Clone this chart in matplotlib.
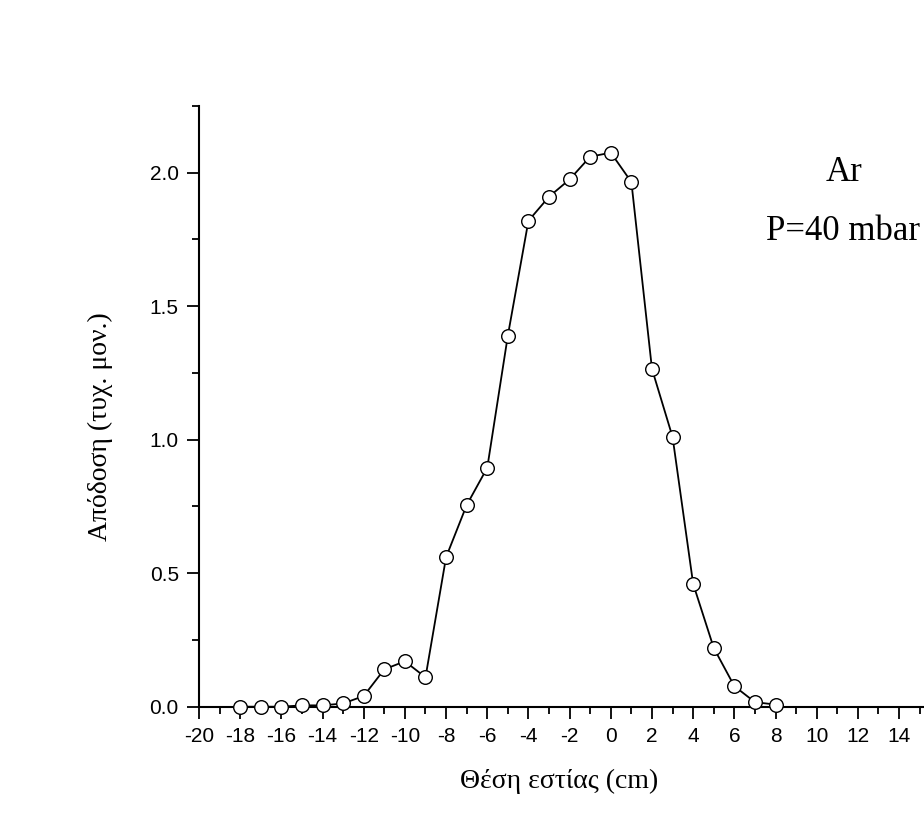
import numpy as np
import matplotlib
matplotlib.use("Agg")
import matplotlib.pyplot as plt
from matplotlib.ticker import MultipleLocator, FormatStrFormatter

plt.rcParams["axes.unicode_minus"] = False

# focal position (cm) vs yield (arb. units), Ar at 40 mbar
position = [-18, -17, -16, -15, -14, -13, -12, -11, -10, -9, -8, -7, -6, -5, -4,
            -3, -2, -1, 0, 1, 2, 3, 4, 5, 6, 7, 8]
yield_au = [0.0, 0.0, 0.0, 0.005, 0.005, 0.012, 0.04, 0.14, 0.17, 0.11, 0.56, 0.755,
            0.895, 1.39, 1.82, 1.91, 1.975, 2.06, 2.075, 1.965, 1.265, 1.01, 0.46,
            0.22, 0.077, 0.017, 0.008]

xlabel = "Θέση εστίας (cm)"
ylabel = "Απόδοση (τυχ. μον.)"

W, H = 924, 839
fig = plt.figure(figsize=(W / 100, H / 100), dpi=100)

# axes runs off the right edge like the original
x0, y0 = 199, 706.7
px_x = 20.59
px_y = 267.0
xmin, xmax = -20, 15.5
ax = fig.add_axes([x0 / W, (H - y0) / H, (xmax - xmin) * px_x / W, 2.25 * px_y / H])

ax.plot(position, yield_au, color="black", lw=1.3, marker="o", ms=9.8,
        mfc="white", mec="black", mew=1.0, clip_on=False, zorder=3)

ax.set_xlim(xmin, xmax)
ax.set_ylim(0, 2.25)
ax.spines["top"].set_visible(False)
ax.spines["right"].set_visible(False)
for s in ("left", "bottom"):
    ax.spines[s].set_linewidth(1.5)

ax.xaxis.set_major_locator(MultipleLocator(2))
ax.xaxis.set_minor_locator(MultipleLocator(1))
ax.yaxis.set_major_locator(MultipleLocator(0.5))
ax.yaxis.set_minor_locator(MultipleLocator(0.25))
ax.yaxis.set_major_formatter(FormatStrFormatter("%.1f"))
ax.tick_params(which="major", length=8.5, width=1.3, direction="out",
               labelsize=15, pad=6)
ax.tick_params(which="minor", length=5, width=1.3, direction="out")
for lab in ax.get_xticklabels() + ax.get_yticklabels():
    lab.set_family("Liberation Sans")

fig.text(559 / W, 1 - 781 / H, xlabel, family="Liberation Serif", fontsize=20,
         ha="center", va="center")
fig.text(100 / W, 1 - 427 / H, ylabel, family="Liberation Serif", fontsize=20,
         ha="center", va="center", rotation=90)

fig.text(844 / W, 1 - 181 / H, "Ar", family="Liberation Serif", fontsize=25,
         ha="center", va="baseline")
fig.text(843 / W, 1 - 240 / H, "P=40 mbar", family="Liberation Serif", fontsize=25,
         ha="center", va="baseline")

fig.savefig("out.png", dpi=100)
